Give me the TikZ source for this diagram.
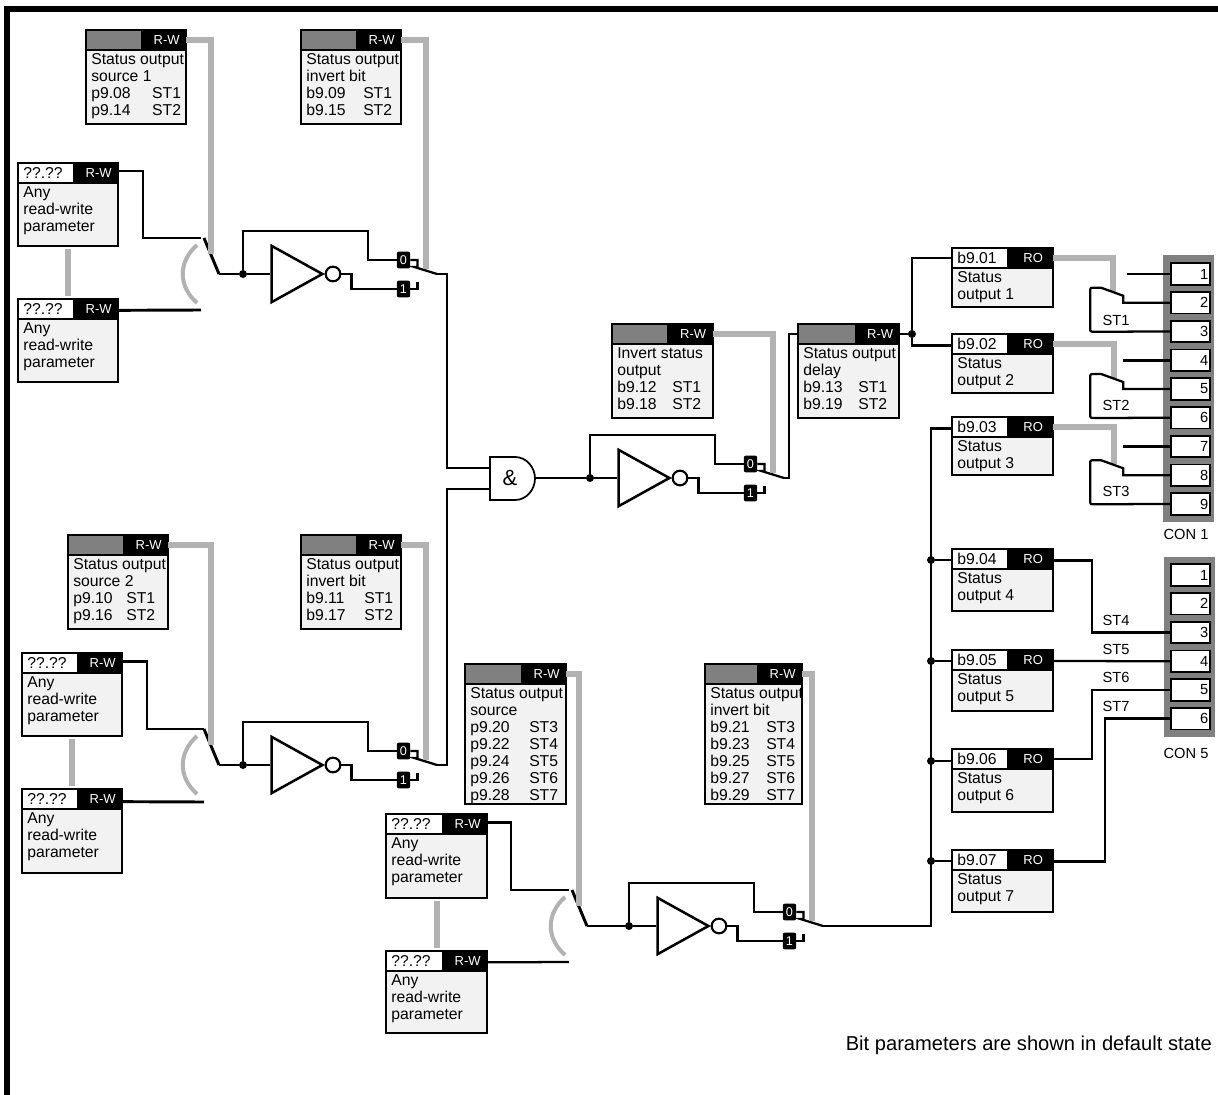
\documentclass[tikz,border=0pt]{standalone}
\usepackage{fontspec}
\setmainfont{Liberation Sans}
\usepackage{xcolor}
\usetikzlibrary{calc,shapes.geometric}
\definecolor{linkgrey}{RGB}{178,178,178}
\definecolor{cellgrey}{RGB}{128,128,128}
\definecolor{bodygrey}{RGB}{242,242,242}

% parameter block: name, corner, width, height, cell width, cell style, title, tag, text
\newcommand{\parblock}[9]{%
  \pgfmathsetlengthmacro{\blockw}{#3*0.75pt}%
  \pgfmathsetlengthmacro{\blockh}{#4*0.75pt}%
  \pgfmathsetlengthmacro{\cellw}{#5*0.75pt}%
  \pgfmathsetlengthmacro{\tagw}{(#3-#5)*0.75pt}%
  \node[blockbody,minimum width=\blockw,minimum height=\blockh] (#1) at (#2) {};
  \node[#6,minimum width=\cellw,anchor=north west] (#1cell) at (#1.north west)
    {\makebox[\cellw][l]{\hspace{4pt}#7}};
  \node[blocktag,minimum width=\tagw,anchor=north east] (#1tag) at (#1.north east)
    {\hspace*{4pt}#8};
  \node[blocktext,anchor=north west] (#1text) at ($(#1.north west)+(5,23.5)$) {#9};
}
% one line of a block: offset of the second column, parameter, output
\newcommand{\prow}[3]{\makebox[#1pt][l]{#2}#3}
\newcommand{\lowtext}[1]{\raisebox{-2.5pt}{#1}}

% two way input switch with its grey bow: name, pivot x, pivot y
\newcommand{\inswitch}[3]{%
  \begin{scope}[shift={(#2,#3)}]
    \coordinate (sw#1out) at (0,0);
    \coordinate (sw#1lever) at (-15,-36);
    \coordinate (sw#1up) at (-18,-36);
    \coordinate (sw#1down) at (-18,36);
    \coordinate (sw#1grey) at (-8,-20);
    \draw[greylink,line width=3pt] (-22,-29) .. controls (-41,-12) and (-41,12) .. (-22,29);
    \draw[wire] (sw#1lever) -- (sw#1out);
  \end{scope}}

% invert stage with its 0/1 selector: name, tap x, tap y
\newcommand{\invstage}[3]{%
  \begin{scope}[shift={(#2,#3)}]
    \node[dot] (tap#1) at (0,0) {};
    \node[invert,anchor=apex] (inv#1) at (82,0) {};
    \node[bubble] (bub#1) at (90,0) {};
    \node[selbox] (sel0#1) at (160.5,-14) {0};
    \node[selbox] (sel1#1) at (160.5,15) {1};
    \coordinate (out#1) at (194,0);
    \coordinate (grey#1) at (183,-5);
    \draw[wire] (tap#1) -- (inv#1.lower side);
    \draw[wire] (tap#1) -- ++(0,-43) -- ++(125,0) |- (sel0#1.west);
    \draw[wire] (bub#1.east) -- ++(10,0) |- (sel1#1.west);
    \draw[thinwire] (sel0#1.east) -- ++(7,0) -- ++(0,7) -- ++(-3,0) -- (out#1);
    \draw[thinwire] (sel1#1.east) -- ++(7,0) -- ++(0,-7);
  \end{scope}}

\begin{document}
\begin{tikzpicture}[
  x=0.75pt,y=-0.75pt,
  every node/.style={font=\fontsize{11.8}{12.75}\selectfont},
  blockbody/.style={draw,fill=bodygrey,line width=1.3pt,anchor=north west,inner sep=0pt,outer sep=0pt},
  blockcell/.style={draw,line width=1.3pt,inner sep=0pt,outer sep=0pt,minimum height=15pt},
  greycell/.style={blockcell,fill=cellgrey},
  whitecell/.style={blockcell,fill=white},
  blocktag/.style={blockcell,fill=black,text=white,font=\fontsize{9.75}{11}\selectfont},
  blocktext/.style={align=left,inner sep=0pt},
  wire/.style={line width=2.2pt,line join=miter},
  thinwire/.style={line width=1.7pt},
  greylink/.style={draw=linkgrey,line width=4.5pt},
  dot/.style={circle,fill=black,inner sep=0pt,minimum size=6pt},
  invert/.style={isosceles triangle,isosceles triangle apex angle=58,draw,fill=white,line width=1.9pt,
                 shape border rotate=0,inner sep=0pt,minimum height=38pt},
  bubble/.style={circle,draw,fill=white,line width=1.6pt,inner sep=0pt,minimum size=11pt},
  selbox/.style={fill=black,text=white,rounded corners=1.5pt,inner sep=0pt,minimum width=10pt,
                 minimum height=12.5pt,font=\fontsize{9.5}{10}\selectfont},
  gateshape/.style={draw,fill=white,line width=1.3pt},
  conframe/.style={fill=cellgrey,inner sep=0pt,minimum width=38.25pt},
  terminal/.style={draw,fill=white,line width=1.3pt,inner sep=0pt,minimum height=16pt,minimum width=29.25pt,
                   text width=26.5pt,align=right,font=\fontsize{11}{12}\selectfont},
  sidelabel/.style={font=\fontsize{11}{12}\selectfont}]

  \useasboundingbox (0,0) rectangle (1218,1095);

  % Frame on two sides
  \coordinate (framebottom) at (7,1095);
  \coordinate (framecorner) at (7,9);
  \coordinate (frameright) at (1218,9);
  \draw[line width=4.5pt] (framebottom) -- (framecorner) -- (frameright);

  % Source and invert blocks, first input
  \parblock{srcA}{86,30}{100}{94}{56}{greycell}{}{R-W}{Status output\\source 1\\\prow{45.75}{p9.08}{ST1}\\\prow{45.75}{p9.14}{ST2}}
  \parblock{bitA}{301,30}{100}{94}{56}{greycell}{}{R-W}{Status output\\invert bit\\\prow{42.75}{b9.09}{ST1}\\\prow{42.75}{b9.15}{ST2}}
  \parblock{anyA}{18,163}{100}{83}{56}{whitecell}{??.??}{R-W}{Any\\read-write\\parameter}
  \parblock{anyB}{18,299}{100}{83}{56}{whitecell}{??.??}{R-W}{Any\\read-write\\parameter}

  % Source and invert blocks, second input
  \parblock{srcB}{68,535}{100}{94}{56}{greycell}{}{R-W}{Status output\\source 2\\\prow{39.75}{p9.10}{ST1}\\\prow{39.75}{p9.16}{ST2}}
  \parblock{bitB}{301,535}{100}{94}{56}{greycell}{}{R-W}{Status output\\invert bit\\\prow{43.5}{b9.11}{ST1}\\\prow{43.5}{b9.17}{ST2}}
  \parblock{anyC}{22,653}{100}{83}{56}{whitecell}{??.??}{R-W}{Any\\read-write\\parameter}
  \parblock{anyD}{22,789}{100}{84}{56}{whitecell}{??.??}{R-W}{Any\\read-write\\parameter}

  % Source and invert blocks, ST3 to ST7
  \parblock{srcC}{465,664}{101}{140}{57}{greycell}{}{R-W}{Status output\\source\\\prow{44.25}{p9.20}{ST3}\\\prow{44.25}{p9.22}{ST4}\\\prow{44.25}{p9.24}{ST5}\\\prow{44.25}{p9.26}{ST6}\\\prow{44.25}{p9.28}{ST7}}
  \parblock{bitC}{705,664}{97}{140}{53}{greycell}{}{R-W}{Status output\\invert bit\\\prow{42}{b9.21}{ST3}\\\prow{42}{b9.23}{ST4}\\\prow{42}{b9.25}{ST5}\\\prow{42}{b9.27}{ST6}\\\prow{42}{b9.29}{ST7}}
  \parblock{anyE}{386,814}{101}{84}{57}{whitecell}{??.??}{R-W}{Any\\read-write\\parameter}
  \parblock{anyF}{386,951}{101}{82}{57}{whitecell}{??.??}{R-W}{Any\\read-write\\parameter}

  % Middle blocks
  \parblock{bitM}{612,324}{101}{94}{56}{greycell}{}{R-W}{Invert status\\output\\\prow{41.25}{b9.12}{ST1}\\\prow{41.25}{b9.18}{ST2}}
  \parblock{delay}{798,324}{101}{94}{58}{greycell}{}{R-W}{Status output\\delay\\\prow{41.25}{b9.13}{ST1}\\\prow{41.25}{b9.19}{ST2}}

  % Status output blocks
  \parblock{stA}{952,248}{101}{59}{56}{whitecell}{\lowtext{b9.01}}{RO}{Status\\output 1}
  \parblock{stB}{952,334}{101}{59}{56}{whitecell}{\lowtext{b9.02}}{RO}{Status\\output 2}
  \parblock{stC}{952,417}{101}{58}{56}{whitecell}{\lowtext{b9.03}}{RO}{Status\\output 3}
  \parblock{stD}{952,549}{101}{62}{56}{whitecell}{\lowtext{b9.04}}{RO}{Status\\output 4}
  \parblock{stE}{952,650}{101}{61}{56}{whitecell}{\lowtext{b9.05}}{RO}{Status\\output 5}
  \parblock{stF}{952,749}{101}{63}{56}{whitecell}{\lowtext{b9.06}}{RO}{Status\\output 6}
  \parblock{stG}{952,850}{101}{62}{56}{whitecell}{\lowtext{b9.07}}{RO}{Status\\output 7}

  % CON 1
  \node[conframe,minimum height=200.25pt] (conA) at (1188.5,388.5) {};
  \node[terminal] (a1) at (1190.5,274) {1};
  \node[terminal] (a2) at (1190.5,302.75) {2};
  \node[terminal] (a3) at (1190.5,331.5) {3};
  \node[terminal] (a4) at (1190.5,360.25) {4};
  \node[terminal] (a5) at (1190.5,389) {5};
  \node[terminal] (a6) at (1190.5,417.75) {6};
  \node[terminal] (a7) at (1190.5,446.5) {7};
  \node[terminal] (a8) at (1190.5,475.25) {8};
  \node[terminal] (a9) at (1190.5,504) {9};
  \node[sidelabel] (conAlabel) at (1186,534) {CON 1};

  % CON 5
  \node[conframe,minimum height=135pt] (conE) at (1189,647) {};
  \node[terminal] (e1) at (1190.5,575) {1};
  \node[terminal] (e2) at (1190.5,603.75) {2};
  \node[terminal] (e3) at (1190.5,632.5) {3};
  \node[terminal] (e4) at (1190.5,661.25) {4};
  \node[terminal] (e5) at (1190.5,690) {5};
  \node[terminal] (e6) at (1190.5,718.75) {6};
  \node[sidelabel] (conElabel) at (1186,753) {CON 5};

  % Switches and gate
  \inswitch{A}{219}{274}
  \inswitch{B}{219}{765}
  \inswitch{C}{587}{926}
  \draw[gateshape] (490,457) -- (515,457) .. controls (527,457) and (535,468) .. (535,478.5)
    .. controls (535,489) and (527,500) .. (515,500) -- (490,500) -- cycle;
  \node[font=\fontsize{16.5}{18}\selectfont,inner sep=0pt] (andgate) at (510,478) {\&};
  \coordinate (andin1) at (490,468);
  \coordinate (andin2) at (490,489);
  \coordinate (andout) at (535,478);

  % Grey links between blocks and switches
  \draw[greylink,shorten <=2pt,shorten >=2pt] (anyA) -- (anyB);
  \draw[greylink,shorten <=2pt,shorten >=2pt] (anyC) -- (anyD);
  \draw[greylink,shorten <=2pt,shorten >=2pt] (anyE) -- (anyF);
  \draw[greylink] (srcAtag.east) -| (swAgrey);
  \draw[greylink] (srcBtag.east) -| (swBgrey);
  \draw[greylink] (srcCtag.east) -| (swCgrey);

  % Invert stages
  \invstage{A}{243}{274}
  \invstage{B}{243}{765}
  \invstage{M}{590}{478}
  \invstage{C}{629}{926}
  \draw[greylink] (bitAtag.east) -| (greyA);
  \draw[greylink] (bitBtag.east) -| (greyB);
  \draw[greylink] (bitMtag.east) -| (greyM);
  \draw[greylink] (bitCtag.east) -| (greyC);
  \draw[wire] (swAout) -- (tapA);
  \draw[wire] (swBout) -- (tapB);
  \draw[wire] (swCout) -- (tapC);

  % Inputs to the switches
  \draw[wire] ([yshift=1.5pt]anyAtag.east) -- ++(25,0) |- (swAup);
  \draw[wire] ([yshift=-1pt]anyBtag.east) -- (swAdown |- 0,310);
  \draw[wire] ([yshift=1pt]anyCtag.east) -- ++(25,0) |- (swBlever);
  \draw[wire] ([yshift=-2pt]anyDtag.east) -- (swBlever |- 0,802);
  \draw[wire] ([yshift=1pt]anyEtag.east) -- ++(24,0) |- (swCup);
  \draw[thinwire] ([yshift=-1pt]anyFtag.east) -- (swCdown |- 0,962);

  % Gate and delay
  \draw[wire] (outA) -- ++(10,0) |- (andin1);
  \draw[wire] (outB) -- ++(10,0) |- (andin2);
  \draw[wire] (andout) -- (tapM);
  \draw[wire] (outM) -- ++(5,0) |- (delaycell.west);
  \node[dot] (tapdelay) at (912,334) {};
  \draw[wire] (delaytag.east) -- (tapdelay);
  \draw[wire] (tapdelay) |- (stAcell.west);
  \draw[wire] (tapdelay) |- ([yshift=-1pt]stBcell.west);

  % Status output bus
  \coordinate (busbottom) at (931,926);
  \draw[wire] (outC) -- (busbottom) |- ([yshift=-1pt]stCcell.west);
  \node[dot] (busD) at (busbottom |- 0,560) {};
  \node[dot] (busE) at (busbottom |- 0,661) {};
  \node[dot] (busF) at (busbottom |- 0,761) {};
  \node[dot] (busG) at (busbottom |- 0,861) {};
  \draw[wire] (busD) -- (stDcell.west |- busD);
  \draw[wire] (busE) -- (stEcell.west |- busE);
  \draw[wire] (busF) -- (stFcell.west |- busF);
  \draw[wire] (busG) -- (stGcell.west |- busG);

  % Relays on CON 1
  \coordinate (armA) at (1113,292);
  \coordinate (armB) at (1114,378);
  \coordinate (armC) at (1114,464);
  \draw[greylink] (stAtag.east) -| (armA);
  \draw[greylink] (stBtag.east) -| (armB);
  \draw[greylink] (stCtag.east) -| (armC);
  \draw[wire] (a1.west) -- ++(-43,0);
  \draw[thinwire] (a2.west) -- ++(-47,0) -- ++(0,-7) -- ++(-22,-8) -- ++(-8,0) [rounded corners=1.5pt] -- ++(-3,0) -- ++(0,44) -- (a3.west);
  \draw[wire] (a4.west) -- ++(-47,0);
  \draw[thinwire] (a5.west) -- ++(-47,0) -- ++(0,-7) -- ++(-22,-8) -- ++(-8,0) [rounded corners=1.5pt] -- ++(-3,0) -- ++(0,44) -- (a6.west);
  \draw[wire] (a7.west) -- ++(-47,0);
  \draw[thinwire] (a8.west) -- ++(-47,0) -- ++(0,-7) -- ++(-22,-8) -- ++(-8,0) [rounded corners=1.5pt] -- ++(-3,0) -- ++(0,44) -- (a9.west);
  \node[sidelabel] (stlabelA) at (1116,320) {ST1};
  \node[sidelabel] (stlabelB) at (1116,405) {ST2};
  \node[sidelabel] (stlabelC) at (1116,491) {ST3};

  % Wires to CON 5
  \draw[wire] ([yshift=-1pt]stDtag.east) -- ++(39,0) |- (e3.west);
  \draw[thinwire] (stEtag.east |- busE) -- (e4.west);
  \draw[wire] (stFtag.east) -- ++(39,0) |- (e5.west);
  \draw[wire] ([yshift=-1pt]stGtag.east) -- ++(52,0) |- (e6.west);
  \node[sidelabel] (stlabelD) at (1116,620) {ST4};
  \node[sidelabel] (stlabelE) at (1116,649) {ST5};
  \node[sidelabel] (stlabelF) at (1116,677) {ST6};
  \node[sidelabel] (stlabelG) at (1116,706) {ST7};

  \node[anchor=east,inner sep=0pt,font=\fontsize{15.1}{17}\selectfont] (note) at (1212,1045)
    {Bit parameters are shown in default state};

\end{tikzpicture}
\end{document}
